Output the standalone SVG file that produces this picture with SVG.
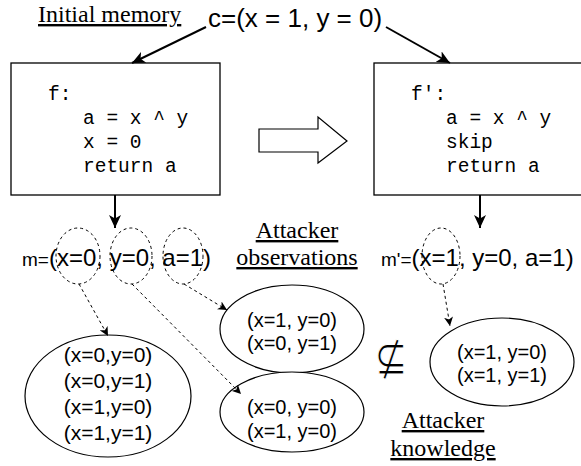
<svg xmlns="http://www.w3.org/2000/svg" width="581" height="466" viewBox="0 0 581 466">
<style>
.serif{font-family:"Liberation Serif","Times New Roman",serif;font-size:24px;text-decoration:underline;fill:#000}
.sans{font-family:"Liberation Sans",Arial,sans-serif;fill:#000}
.mono{font-family:"Liberation Mono","Courier New",monospace;font-size:19.5px;fill:#000}
.box{fill:#fff;stroke:#000;stroke-width:1.3}
.sol{fill:none;stroke:#000;stroke-width:2}
.dash{fill:none;stroke:#000;stroke-width:1;stroke-dasharray:3 3}
.ell{fill:#fff;stroke:#000;stroke-width:1.2}
</style>
<defs>
<marker id="ah" markerUnits="userSpaceOnUse" markerWidth="14" markerHeight="12" refX="13" refY="6" orient="auto">
<path d="M0,0 L13,6 L0,12 L3.5,6 Z" fill="#000"/>
</marker>
<marker id="ahs" markerUnits="userSpaceOnUse" markerWidth="10" markerHeight="9" refX="9" refY="4.5" orient="auto">
<path d="M0,0 L9,4.5 L0,9 L2.5,4.5 Z" fill="#000"/>
</marker>
</defs>

<g id="label-initial"><text class="serif" x="38" y="22">Initial memory</text></g>
<g id="label-c"><text class="sans" x="208" y="27" font-size="26">c=(x = 1, y = 0)</text></g>

<g id="box-f">
<rect class="box" x="11" y="63" width="209" height="132"/>
<text class="mono" x="48" y="100">f:</text>
<text class="mono" x="83" y="124">a = x ^ y</text>
<text class="mono" x="83" y="148">x = 0</text>
<text class="mono" x="83" y="172">return a</text>
</g>

<g id="box-fp">
<rect class="box" x="374" y="63" width="215" height="132"/>
<text class="mono" x="411" y="100">f':</text>
<text class="mono" x="446" y="124">a = x ^ y</text>
<text class="mono" x="446" y="148">skip</text>
<text class="mono" x="446" y="172">return a</text>
</g>

<g id="big-arrow">
<path d="M259,129 L318,129 L318,117 L347,141 L318,163 L318,152 L259,152 Z" fill="#fff" stroke="#000" stroke-width="1.2"/>
</g>

<g id="mem-m">
<text class="sans" x="22" y="266" font-size="24"><tspan font-size="19">m=</tspan>(x=0, y=0, a=1)</text>
<ellipse class="dash" cx="78" cy="256" rx="22" ry="28"/>
<ellipse class="dash" cx="131" cy="256" rx="21" ry="28"/>
<ellipse class="dash" cx="183" cy="256" rx="20" ry="28"/>
</g>

<g id="mem-mp">
<text class="sans" x="381" y="266" font-size="24"><tspan font-size="19">m'=</tspan>(x=1, y=0, a=1)</text>
<ellipse class="dash" cx="441" cy="256" rx="19" ry="28"/>
</g>

<g id="label-obs">
<text class="serif" x="297" y="238" text-anchor="middle">Attacker</text>
<text class="serif" x="297" y="265" text-anchor="middle">observations</text>
</g>

<g id="label-know">
<text class="serif" x="443" y="428" text-anchor="middle">Attacker</text>
<text class="serif" x="443" y="456" text-anchor="middle">knowledge</text>
</g>

<g id="set-all">
<ellipse class="ell" cx="108" cy="396" rx="83" ry="61"/>
<text class="sans" font-size="21" text-anchor="middle" x="108" y="362">(x=0,y=0)</text>
<text class="sans" font-size="21" text-anchor="middle" x="108" y="388">(x=0,y=1)</text>
<text class="sans" font-size="21" text-anchor="middle" x="108" y="414">(x=1,y=0)</text>
<text class="sans" font-size="21" text-anchor="middle" x="108" y="440">(x=1,y=1)</text>
</g>

<g id="set-a">
<ellipse class="ell" cx="292" cy="329" rx="72" ry="44"/>
<text class="sans" font-size="20" text-anchor="middle" x="292" y="327">(x=1, y=0)</text>
<text class="sans" font-size="20" text-anchor="middle" x="292" y="350">(x=0, y=1)</text>
</g>

<g id="set-y">
<ellipse class="ell" cx="292" cy="412" rx="72" ry="40"/>
<text class="sans" font-size="20" text-anchor="middle" x="292" y="414">(x=0, y=0)</text>
<text class="sans" font-size="20" text-anchor="middle" x="292" y="438">(x=1, y=0)</text>
</g>

<g id="set-k">
<ellipse class="ell" cx="502" cy="362" rx="72" ry="44"/>
<text class="sans" font-size="20" text-anchor="middle" x="502" y="359">(x=1, y=0)</text>
<text class="sans" font-size="20" text-anchor="middle" x="502" y="382">(x=1, y=1)</text>
</g>

<g id="notsubset">
<text transform="translate(391,374) scale(1,1.2)" text-anchor="middle" font-family="DejaVu Sans, sans-serif" font-size="40" fill="#000" stroke="#fff" stroke-width="0.9">⊈</text>
</g>

<g id="connectors">
<line class="sol" x1="206" y1="27" x2="132" y2="63" marker-end="url(#ah)"/>
<line class="sol" x1="386" y1="27" x2="450" y2="63" marker-end="url(#ah)"/>
<line class="sol" x1="115" y1="195" x2="115" y2="228" marker-end="url(#ah)"/>
<line class="sol" x1="480" y1="195" x2="480" y2="228" marker-end="url(#ah)"/>
<line class="dash" x1="79" y1="284" x2="108" y2="336" marker-end="url(#ahs)"/>
<line class="dash" x1="132" y1="284" x2="241" y2="394" marker-end="url(#ahs)"/>
<line class="dash" x1="184" y1="284" x2="227" y2="310" marker-end="url(#ahs)"/>
<line class="dash" x1="443" y1="284" x2="450" y2="326" marker-end="url(#ahs)"/>
</g>
</svg>
